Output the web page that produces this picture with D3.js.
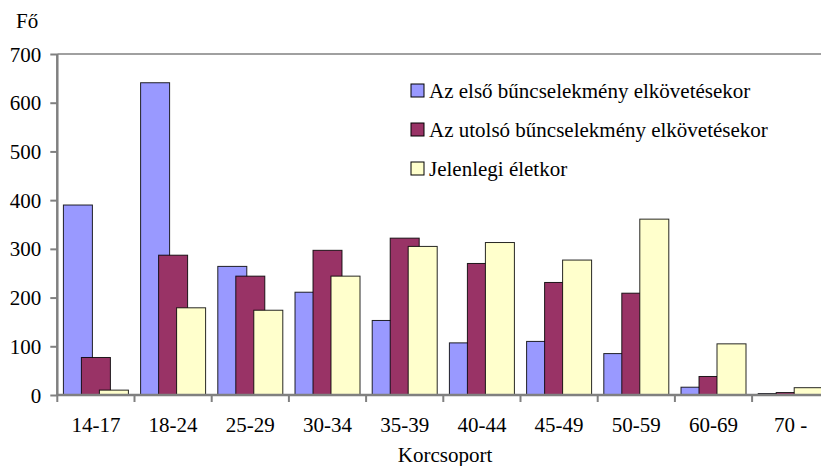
<!DOCTYPE html>
<html><head><meta charset="utf-8">
<script src="https://cdn.jsdelivr.net/npm/d3@7/dist/d3.min.js"></script>
<style>body{margin:0;background:#fff}svg{display:block}text{font-family:"Liberation Serif","Times New Roman",serif;fill:#000}</style>
</head><body><svg id="c" width="821" height="466"></svg>
<script>
const categories = ["14-17","18-24","25-29","30-34","35-39","40-44","45-49","50-59","60-69","70 -"];
const seriesNames = ["Az első bűncselekmény elkövetésekor","Az utolsó bűncselekmény elkövetésekor","Jelenlegi életkor"];
const firstOffence = [390,641,264,211,153,107,110,85,16,3];
const lastOffence = [77,287,244,297,322,270,231,209,38,5];
const currentAge = [10,179,174,244,305,313,277,361,105,15];
const colors = ["#9999FF","#993366","#FFFFCC"];
const yTicks = [0,100,200,300,400,500,600,700];
const yTitle = "Fő";
const xTitle = "Korcsoport";

(function(){
const FS = 21;
const series = [firstOffence,lastOffence,currentAge];
const svg = d3.select("#c");
const pLeft = 57.3, band = 77.2, pBottom = 395, pTop = 54;
const x = d3.scaleBand().domain(categories).range([pLeft, pLeft + band*categories.length]).paddingInner(0).paddingOuter(0);
const y = d3.scaleLinear().domain([0,700]).range([pBottom, pTop]);
const barW = 29, step = 18, groupW = step*2 + barW;
const off = (x.bandwidth() - groupW)/2;

svg.append("line").attr("x1",pLeft).attr("x2",821).attr("y1",y(700)).attr("y2",y(700)).attr("stroke","#808080").attr("stroke-width",1.5);

series.forEach((vals,si)=>{
  svg.append("g").selectAll("rect").data(vals).join("rect")
    .attr("x",(d,i)=>x(categories[i]) + off + si*step)
    .attr("y",d=>y(d))
    .attr("width",barW)
    .attr("height",d=>pBottom - y(d))
    .attr("fill",colors[si])
    .attr("stroke","#000").attr("stroke-width",1).attr("stroke-opacity",0.85);
});

const ya = svg.append("g").attr("transform",`translate(${pLeft},0)`)
  .call(d3.axisLeft(y).tickValues(yTicks).tickSize(7).tickPadding(9).tickFormat(d3.format("d")));
ya.attr("font-family","Liberation Serif").attr("font-size",FS);
ya.select(".domain").attr("stroke","#808080").attr("stroke-width",2.5).attr("d",`M0,${pTop}V${pBottom}`);
ya.selectAll(".tick line").attr("stroke","#808080").attr("stroke-width",2);
ya.selectAll(".tick text").attr("fill","#000").attr("dy","0.34em");

const xa = svg.append("g").attr("transform",`translate(0,${pBottom})`)
  .call(d3.axisBottom(x).tickSize(0).tickPadding(22));
xa.attr("font-family","Liberation Serif").attr("font-size",FS);
xa.select(".domain").attr("stroke","#808080").attr("stroke-width",2.5).attr("d",`M${pLeft},0H821`);
xa.selectAll(".tick text").attr("fill","#000");
svg.append("g").selectAll("line").data(categories.map((c,i)=>i)).join("line")
  .attr("x1",i=>pLeft + i*band).attr("x2",i=>pLeft + i*band)
  .attr("y1",pBottom).attr("y2",pBottom+7).attr("stroke","#808080").attr("stroke-width",2);

svg.append("text").attr("x",16).attr("y",28).attr("font-size",FS).text(yTitle);
svg.append("text").attr("x",445).attr("y",462).attr("text-anchor","middle").attr("font-size",FS).text(xTitle);

const lg = svg.append("g");
seriesNames.forEach((n,i)=>{
  const yy = 84 + i*39;
  lg.append("rect").attr("x",411).attr("y",yy).attr("width",13).attr("height",13)
    .attr("fill",colors[i]).attr("stroke","#000").attr("stroke-width",1);
  lg.append("text").attr("x",429).attr("y",yy+13.5).attr("font-size",FS).text(n);
});
})();
</script></body></html>
